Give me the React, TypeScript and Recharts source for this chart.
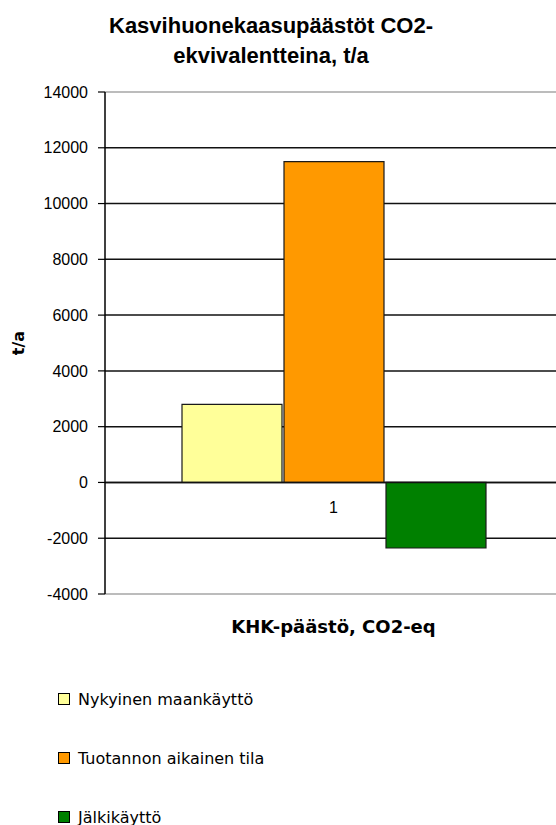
import React from "react";
import {
  BarChart,
  Bar,
  XAxis,
  YAxis,
  CartesianGrid,
  ReferenceLine,
  Legend,
  Label,
} from "recharts";

// categories and series values
const categories = ["1"];
const seriesNames = [
  "Nykyinen maankäyttö",
  "Tuotannon aikainen tila",
  "Jälkikäyttö",
];
const seriesColors = ["#FFFF99", "#FF9900", "#008000"];
const nykyinen = [2800];
const tuotanto = [11500];
const jalkikaytto = [-2350];
const yTicks = [-4000, -2000, 0, 2000, 4000, 6000, 8000, 10000, 12000, 14000];

const titleLines = ["Kasvihuonekaasupäästöt CO2-", "ekvivalentteina, t/a"];
const xTitle = "KHK-päästö, CO2-eq";
const yTitle = "t/a";

const seriesKeys = ["s0", "s1", "s2"];
const seriesValues = [nykyinen, tuotanto, jalkikaytto];

const data = categories.map((name, i) => {
  const row: Record<string, string | number> = { name };
  seriesKeys.forEach((k, j) => {
    row[k] = seriesValues[j][i];
  });
  return row;
});

const tickFont = { fontFamily: "'Liberation Sans', Arial, sans-serif", fontSize: 16, fill: "#000" };

const YTitle = (props: any) => {
  const vb = props.viewBox || {};
  const cy = vb.height ? vb.y + vb.height / 2 : 343;
  return (
    <text
      x={18}
      y={cy}
      transform={`rotate(-90 18 ${cy})`}
      textAnchor="middle"
      dominantBaseline="central"
      style={{ fontFamily: "'DejaVu Sans', sans-serif", fontWeight: 700, fontSize: 16, fill: "#000" }}
    >
      {yTitle}
    </text>
  );
};

const LegendBox = () => (
  <div
    style={{
      height: 137,
      paddingLeft: 58,
      paddingTop: 1,
      boxSizing: "border-box",
      fontFamily: "'DejaVu Sans', sans-serif",
      fontSize: 16,
      color: "#000",
    }}
  >
    {seriesNames.map((n, i) => (
      <div
        key={n}
        style={{ display: "flex", alignItems: "center", height: 20, marginBottom: 39 }}
      >
        <span
          style={{
            display: "inline-block",
            width: 10,
            height: 10,
            background: seriesColors[i],
            border: "1px solid #000",
            marginRight: 8,
          }}
        />
        <span>{n}</span>
      </div>
    ))}
  </div>
);

export default function App() {
  return (
    <div
      style={{
        position: "absolute",
        left: 0,
        top: 0,
        width: 556,
        height: 825,
        overflow: "hidden",
        background: "#fff",
      }}
    >
      <div
        style={{
          position: "absolute",
          left: 0,
          top: 11,
          width: 542,
          textAlign: "center",
          fontFamily: "'Liberation Sans', Arial, sans-serif",
          fontWeight: 700,
          fontSize: 22,
          lineHeight: "30px",
          color: "#000",
        }}
      >
        {titleLines.map((t) => (
          <div key={t}>{t}</div>
        ))}
      </div>
      <BarChart
        width={570}
        height={825}
        data={data}
        margin={{ top: 92, right: 8, left: 0, bottom: 0 }}
        barGap={2}
      >
        <CartesianGrid
          vertical={false}
          horizontalValues={yTicks.slice(1, -1)}
          stroke="#111"
          strokeWidth={1.5}
        />
        <XAxis
          dataKey="name"
          height={94}
          axisLine={false}
          tickLine={false}
          tick={false}
        >
          <Label
            value={xTitle}
            position="insideTop"
            offset={26}
            style={{ fontFamily: "'DejaVu Sans', sans-serif", fontWeight: 700, fontSize: 18, fill: "#000" }}
          />
        </XAxis>
        <YAxis
          width={105}
          domain={[-4000, 14000]}
          ticks={yTicks}
          interval={0}
          tickSize={7}
          tickMargin={10}
          tick={tickFont}
          axisLine={{ stroke: "#000", strokeWidth: 1.5 }}
          tickLine={{ stroke: "#000", strokeWidth: 1.2 }}
        >
          <Label content={YTitle} />
        </YAxis>
        <ReferenceLine y={14000} stroke="#a6a6a6" strokeWidth={1.5} />
        <ReferenceLine y={-4000} stroke="#a6a6a6" strokeWidth={1.5} />
        {seriesKeys.map((k, i) => (
          <Bar
            key={k}
            dataKey={k}
            name={seriesNames[i]}
            fill={seriesColors[i]}
            stroke="#1a1a1a"
            strokeWidth={1.2}
            barSize={100}
            isAnimationActive={false}
          />
        ))}
        <ReferenceLine
          y={0}
          stroke="#111"
          strokeWidth={1.5}
          label={{
            value: categories[0],
            position: "bottom",
            offset: 19,
            style: tickFont,
          }}
        />
        <Legend
          verticalAlign="bottom"
          align="left"
          content={LegendBox}
          wrapperStyle={{ left: 0, width: 400 }}
        />
      </BarChart>
    </div>
  );
}
